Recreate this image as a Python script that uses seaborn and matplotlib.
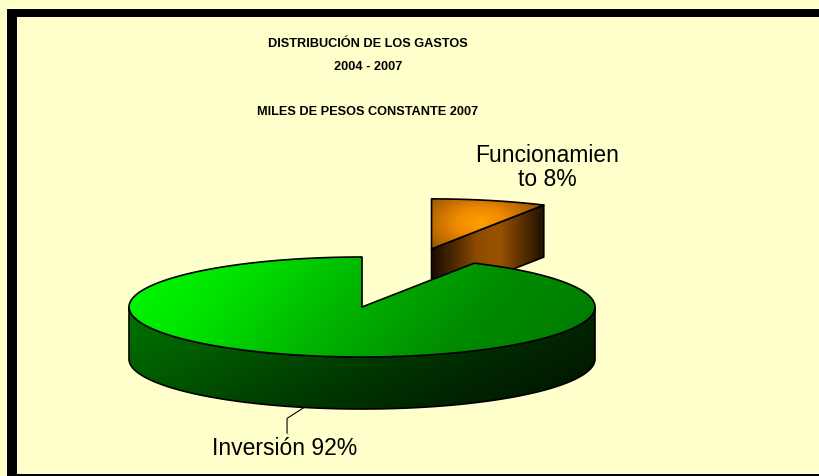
import numpy as np
import matplotlib
matplotlib.use("Agg")
import matplotlib.pyplot as plt
from matplotlib.patches import Polygon, Rectangle
import seaborn as sns

# datos del grafico
categorias = ["Funcionamiento", "Inversión"]
valores = [8, 92]
etiquetas = ["Funcionamien\nto 8%", "Inversión 92%"]
titulo = ["DISTRIBUCIÓN DE LOS GASTOS", "2004 - 2007", "MILES DE PESOS CONSTANTE 2007"]

sns.set_style("white")
plt.rcParams["font.family"] = ["Liberation Sans", "DejaVu Sans"]

W, H = 820, 477
fondo = "#FFFFCC"
fig = plt.figure(figsize=(W / 100, H / 100), dpi=100, facecolor=fondo)
ax = fig.add_axes([0, 0, 1, 1])
ax.set_facecolor(fondo)

# geometria del pastel 3D (pixeles)
cx, cy = 362, 308
rx, ry = 233, 50
depth = 52
explode = [1.2, 0.0]

# gradientes
cm_top = [
    sns.blend_palette(["#FFA000", "#F08C00", "#C06C00", "#8E4E00"], as_cmap=True),
    sns.blend_palette(["#00FF00", "#00E400", "#00B400", "#008C00", "#007C00"], as_cmap=True),
]
cm_side = [
    sns.blend_palette(["#1A0C00", "#4E2A00", "#8E4C00", "#9A5200", "#5A3000", "#1E0E00"], as_cmap=True),
    sns.blend_palette(["#007400", "#005A00", "#003C00", "#002400", "#001200"], as_cmap=True),
]


def arc(c, t0, t1, dy=0.0, n=300):
    t = np.radians(np.linspace(t0, t1, n))
    return np.column_stack([c[0] + rx * np.cos(t), c[1] - ry * np.sin(t) + dy])


def fill_grad(xy, cmap, func, z):
    x0, y0 = xy.min(axis=0) - 2
    x1, y1 = xy.max(axis=0) + 2
    X, Y = np.meshgrid(np.linspace(x0, x1, 300), np.linspace(y0, y1, 200))
    V = np.clip(func(X, Y), 0, 1)
    im = ax.imshow(V, cmap=cmap, vmin=0, vmax=1, extent=(x0, x1, y1, y0),
                   origin="upper", aspect="auto", interpolation="bilinear", zorder=z)
    p = Polygon(xy, closed=True, facecolor="none", edgecolor="black", lw=1.2,
                joinstyle="round", zorder=z + 0.5)
    ax.add_patch(p)
    im.set_clip_path(p)


fracs = np.array(valores) / np.sum(valores)
ang = 90 - 360 * np.concatenate([[0], np.cumsum(fracs)])

slices = []
for i in range(len(valores)):
    t0, t1 = ang[i], ang[i + 1]
    mid = np.radians((t0 + t1) / 2)
    c = (cx + explode[i] * rx * np.cos(mid), cy - explode[i] * ry * np.sin(mid))
    slices.append((i, t0, t1, c))

# primero las porciones mas alejadas
slices.sort(key=lambda s: s[3][1])
z = 2
for i, t0, t1, c in slices:
    lo, hi = t1, t0
    # cara lateral exterior (parte frontal)
    for k in (-1, 0, 1):
        a0, a1 = max(lo, -180 + 360 * k), min(hi, 360 * k)
        if a1 > a0:
            top = arc(c, a0, a1)
            bot = arc(c, a1, a0, dy=depth)
            xy = np.vstack([top, bot])
            if i == 1:
                f = lambda X, Y: 0.7 * (X - (cx - rx)) / (2 * rx) + 0.3 * (Y - cy) / (ry + depth)
            else:
                f = lambda X, Y, c=c: (X - (c[0] - rx)) / (2 * rx)
            fill_grad(xy, cm_side[i], f, z)
            z += 1
    # caras radiales visibles
    for t, nrm in ((t1, t1 - 90), (t0, t0 + 90)):
        if np.sin(np.radians(nrm)) < -1e-6:
            e = arc(c, t, t, n=1)[0]
            xy = np.array([c, e, e + [0, depth], [c[0], c[1] + depth]])
            xa, xb = min(c[0], e[0]), max(c[0], e[0])
            f = lambda X, Y, xa=xa, xb=xb: (X - xa) / (xb - xa)
            fill_grad(xy, cm_side[i], f, z)
            z += 1
    # cara superior
    xy = np.vstack([[c], arc(c, t0, t1)])
    if i == 1:
        f = lambda X, Y: 0.85 * (X - (cx - rx - 20)) / (2 * rx) + 0.15 * (Y - cy + ry) / (2 * ry)
    else:
        f = lambda X, Y, c=c: np.hypot((X - c[0] - 48) / 70, (Y - c[1] + 26) / 40)
    fill_grad(xy, cm_top[i], f, z)
    z += 1

# etiquetas
c_inv = [s for s in slices if s[0] == 1][0]
mid = np.radians((c_inv[1] + c_inv[2]) / 2)
p0 = np.array([c_inv[3][0] + rx * np.cos(mid), c_inv[3][1] - ry * np.sin(mid) + depth])
p1 = p0 + [-17, 11]
p2 = p1 + [0, 15]
ax.plot([p0[0], p1[0], p2[0]], [p0[1], p1[1], p2[1]], color="black", lw=0.8, zorder=z)
ax.text(p2[0] - 2, p2[1] + 21, etiquetas[1], ha="center", va="baseline",
        fontsize=16.5, color="black", zorder=z)

lin = etiquetas[0].split("\n")
for k, s in enumerate(lin):
    ax.text(547, 162 + 24 * k, s, ha="center", va="baseline",
            fontsize=16.5, color="black", zorder=z)

# titulo
for s, yb in zip(titulo, [47, 70, 115]):
    ax.text(368, yb, s, ha="center", va="baseline", fontsize=9.2,
            fontweight="bold", color="black", zorder=z)

# marco negro
for r in [(7, 10, 10, 467), (7, 10, 813, 8), (7, 475, 813, 2)]:
    ax.add_patch(Rectangle(r[:2], r[2], r[3], facecolor="black", edgecolor="none", zorder=z + 1))

ax.set_xlim(0, W)
ax.set_ylim(H, 0)
ax.axis("off")
fig.savefig("out.png", dpi=100, facecolor=fondo)
